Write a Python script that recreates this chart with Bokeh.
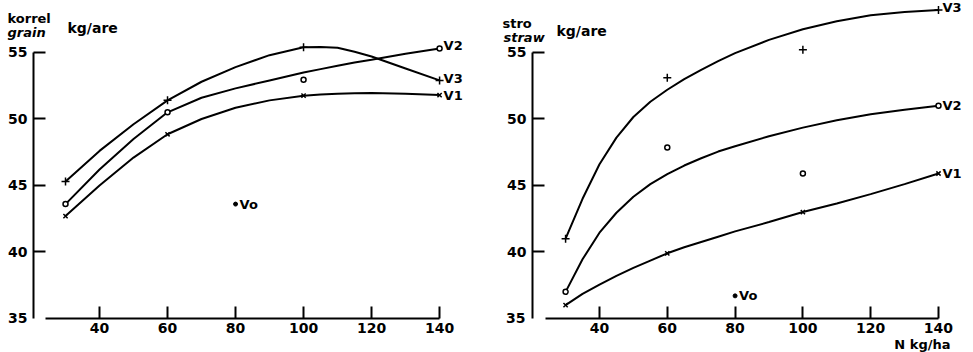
from bokeh.plotting import figure
from bokeh.layouts import row
from bokeh.models import Range1d, Label, FixedTicker, ColumnDataSource
from bokeh.core.properties import value
from bokeh.embed import file_html
from bokeh.resources import INLINE

# ---------------- data ----------------
n_rates = [30, 60, 100, 140]
x_ticks = [40, 60, 80, 100, 120, 140]
y_ticks = [40, 45, 50, 55]
series_names = ["V1", "V2", "V3"]

# grain (korrel), kg/are
grain_v1 = [42.7, 48.85, 51.75, 51.8]
grain_v2 = [43.6, 50.5, 52.95, 55.3]
grain_v3 = [45.3, 51.4, 55.4, 52.9]
grain_v0_n = [80]
grain_v0 = [43.6]
grain_curve_n = [30, 40, 50, 60, 70, 80, 90, 100, 105, 110, 115, 120, 130, 140]
grain_v1_curve = [42.7, 45.0, 47.1, 48.85, 50.0, 50.85, 51.4, 51.75, 51.85, 51.9, 51.93, 51.95, 51.9, 51.8]
grain_v2_curve = [43.6, 46.2, 48.5, 50.5, 51.6, 52.3, 52.9, 53.5, 53.75, 54.0, 54.25, 54.45, 54.9, 55.3]
grain_v3_curve = [45.3, 47.6, 49.6, 51.4, 52.8, 53.9, 54.8, 55.4, 55.42, 55.35, 55.05, 54.7, 53.8, 52.9]

# straw (stro), kg/are
straw_v1 = [36.0, 39.9, 43.0, 45.9]
straw_v2 = [37.0, 47.85, 45.9, 51.0]
straw_v3 = [41.0, 53.1, 55.2, 58.2]
straw_v0_n = [80]
straw_v0 = [36.7]
straw_curve_n = [30, 35, 40, 45, 50, 55, 60, 65, 70, 75, 80, 90, 100, 110, 120, 130, 140]
straw_v1_curve = [36.0, 36.85, 37.55, 38.2, 38.8, 39.35, 39.9, 40.35, 40.75, 41.15, 41.55,
                  42.25, 43.0, 43.65, 44.35, 45.1, 45.9]
straw_v2_curve = [37.0, 39.45, 41.45, 42.95, 44.15, 45.1, 45.85, 46.5, 47.05, 47.55, 47.95,
                  48.7, 49.35, 49.9, 50.35, 50.7, 51.0]
straw_v3_curve = [41.0, 44.0, 46.6, 48.6, 50.15, 51.3, 52.2, 53.0, 53.7, 54.35, 54.95,
                  55.95, 56.75, 57.35, 57.8, 58.05, 58.2]

FONT = "DejaVu Sans"
INK = "black"


def make_panel(width, xr, y_axis_at, curve_n, curves, points, v0n, v0, end_offsets,
               title1, title2, titles_xy, unit_xy, label35_x, xlabel_xy=None):
    p = figure(width=width, height=352, x_range=Range1d(*xr), y_range=Range1d(32.44, 58.91),
               output_backend="svg", toolbar_location=None, min_border=0)
    p.outline_line_color = None
    p.grid.visible = False

    for ax in (p.xaxis, p.yaxis):
        ax.axis_line_width = 2
        ax.axis_line_color = INK
        ax.major_tick_line_width = 2
        ax.major_tick_line_color = INK
        ax.major_tick_in = 12
        ax.major_tick_out = 0
        ax.minor_tick_line_color = None
        ax.major_label_text_font = FONT
        ax.major_label_text_font_size = "14px"
        ax.major_label_text_font_style = "bold"
        ax.major_label_text_color = INK
    p.xaxis.ticker = FixedTicker(ticks=x_ticks)
    p.xaxis.bounds = (24, 140)
    p.xaxis.fixed_location = 35
    p.xaxis.major_label_standoff = 5
    p.yaxis.ticker = FixedTicker(ticks=y_ticks)
    p.yaxis.bounds = (35, 55)
    p.yaxis.fixed_location = y_axis_at
    p.yaxis.major_label_standoff = 6

    p.add_layout(Label(x=label35_x, y=35, x_units="screen", y_units="data", text="35",
                       text_align="right", text_baseline="middle", text_font=FONT,
                       text_font_size="14px", text_font_style="bold", text_color=INK))

    markers = ["x", "circle", "cross"]
    sizes = [6, 5, 8]
    for i, (cv, pts) in enumerate(zip(curves, points)):
        p.line(curve_n, cv, line_color=INK, line_width=2)
        p.scatter(n_rates, pts, marker=markers[i], size=sizes[i], line_color=INK,
                  fill_color="white", line_width=1.5)

    src = ColumnDataSource(dict(x=[n_rates[-1]] * 3, y=[pts[-1] for pts in points],
                                t=series_names, yo=end_offsets))
    p.text(x="x", y="y", text="t", y_offset="yo", x_offset=4, source=src,
           text_font=value(FONT), text_font_size="13px", text_font_style="bold",
           text_baseline="middle", text_color=INK)

    p.scatter(v0n, v0, marker="circle", size=4, fill_color=INK, line_color=INK)
    p.text(x=v0n, y=v0, text=["Vo"], x_offset=4, text_font=value(FONT),
           text_font_size="13px", text_font_style="bold", text_baseline="middle",
           text_color=INK)

    (x1, y1), (x2, y2) = titles_xy
    p.add_layout(Label(x=x1, y=y1, x_units="screen", y_units="screen", text=title1,
                       text_font=FONT, text_font_size="13px", text_font_style="bold",
                       text_baseline="middle", text_color=INK))
    p.add_layout(Label(x=x2, y=y2, x_units="screen", y_units="screen", text=title2,
                       text_font=FONT, text_font_size="13px", text_font_style="bold italic",
                       text_baseline="middle", text_color=INK))
    p.add_layout(Label(x=unit_xy[0], y=unit_xy[1], x_units="screen", y_units="screen",
                       text="kg/are", text_font=FONT, text_font_size="14px",
                       text_font_style="bold", text_baseline="middle", text_color=INK))
    if xlabel_xy is not None:
        p.add_layout(Label(x=xlabel_xy[0], y=xlabel_xy[1], x_units="screen", y_units="screen",
                           text="N kg/ha", text_align="right", text_font=FONT,
                           text_font_size="13px", text_font_style="bold",
                           text_baseline="middle", text_color=INK))
    return p


left = make_panel(486, (10.88, 153.8), 20.59, grain_curve_n,
                  [grain_v1_curve, grain_v2_curve, grain_v3_curve],
                  [grain_v1, grain_v2, grain_v3], grain_v0_n, grain_v0,
                  [0, -3, -2], "korrel", "grain", ((7, 334), (7, 320)), (67, 324.5), 27)
right = make_panel(487, (6.67, 150.33), 20.24, straw_curve_n,
                   [straw_v1_curve, straw_v2_curve, straw_v3_curve],
                   [straw_v1, straw_v2, straw_v3], straw_v0_n, straw_v0,
                   [0, 0, -2], "stro", "straw", ((16, 329), (17, 315)), (70, 322), 39,
                   xlabel_xy=(464, 8))

layout = row(left, right)
open("out.html", "w").write(file_html(layout, INLINE))
